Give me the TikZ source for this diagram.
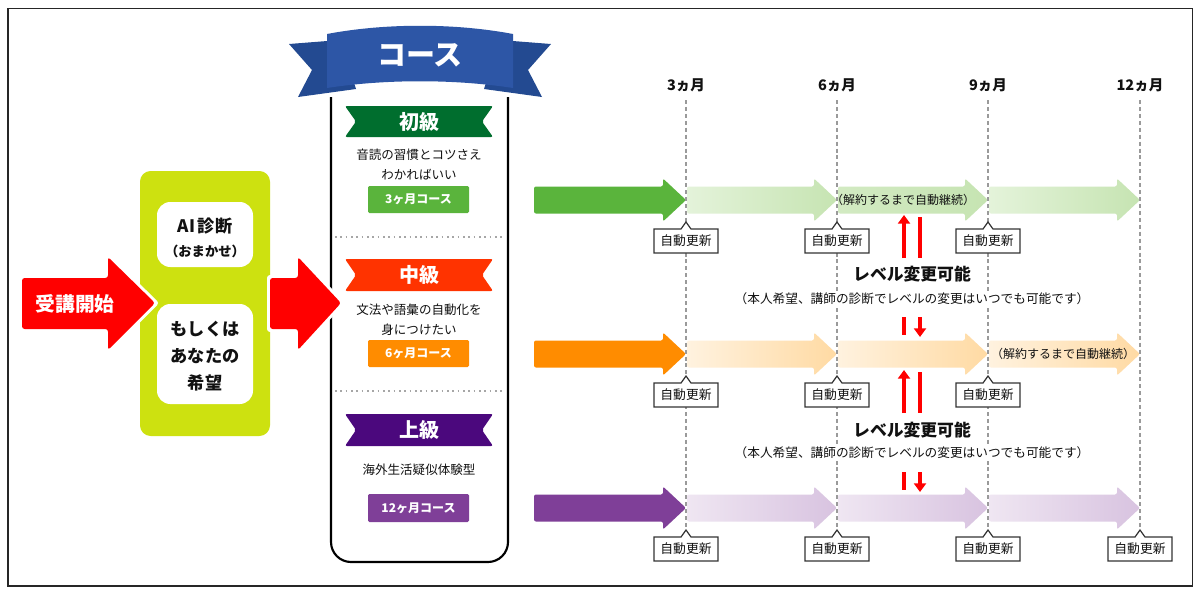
\documentclass[tikz,border=0pt]{standalone}
\usepackage{fontspec}
\setmainfont{Noto Sans CJK JP}
\usetikzlibrary{arrows.meta}
\definecolor{cLime}{HTML}{CDE110}
\definecolor{cRed}{HTML}{FF0000}
\definecolor{cRib}{HTML}{2D56A6}
\definecolor{cRibDk}{HTML}{234A91}
\definecolor{lvA}{HTML}{006E2E}
\definecolor{lvB}{HTML}{FF3300}
\definecolor{lvC}{HTML}{4B087D}
\definecolor{btA}{HTML}{5AB43C}
\definecolor{btB}{HTML}{FF8C00}
\definecolor{btC}{HTML}{7F3F98}
\definecolor{gAa}{HTML}{E4F3DA}
\definecolor{gAb}{HTML}{C6E4B2}
\definecolor{gBa}{HTML}{FFF2DF}
\definecolor{gBb}{HTML}{FFDAA3}
\definecolor{gCa}{HTML}{EFE6F2}
\definecolor{gCb}{HTML}{D8C3E0}
\definecolor{cDash}{HTML}{9A9A9A}
\definecolor{cTxt}{HTML}{111111}
\newcommand\tlarrow[4]{\path[#4] (#1,#3-13.5) -- (#2-23,#3-13.5) -- (#2-23,#3-21.5) -- (#2,#3) -- (#2-23,#3+21.5) -- (#2-23,#3+13.5) -- (#1,#3+13.5) -- cycle;}
\newcommand\updbox[3]{\draw[callout] (#1-32,#2+29) -- (#1-5,#2+29) -- (#1,#2+22) -- (#1+5,#2+29) -- (#1+32,#2+29) -- (#1+32,#2+53) -- (#1-32,#2+53) -- cycle;
 \node[updtext] (#3) at (#1,#2+41) {自動更新};}
\newcommand\lvbanner[5]{\fill[#4, rounded corners=1.5] (345,#1) -- (493,#1) -- (482,#1/2+#2/2) -- (493,#2) -- (345,#2) -- (356,#1/2+#2/2) -- cycle;
 \node[lvtext] (#5) at (419,#1/2+#2/2) {#3};}
\begin{document}
\begin{tikzpicture}[x=0.75pt,y=-0.75pt,
  callout/.style={fill=white,draw=black!80,line width=0.9pt},
  updtext/.style={inner sep=0pt,text=cTxt,font=\fontsize{9.6pt}{11pt}\selectfont},
  lvtext/.style={inner sep=0pt,text=white,font=\fontsize{15pt}{18pt}\selectfont\bfseries},
  desc/.style={inner sep=0pt,align=center,text=cTxt,font=\fontsize{9.4pt}{15pt}\selectfont},
  btn/.style={inner sep=0pt,text=white,font=\fontsize{9pt}{11pt}\selectfont\bfseries},
  month/.style={inner sep=0pt,text=cTxt,font=\fontsize{10.9pt}{13pt}\selectfont\bfseries},
  dashline/.style={cDash,line width=0.8pt,dash pattern=on 3pt off 2.2pt},
  redline/.style={cRed,line width=2.3pt},
  redtip/.style={-{Triangle[width=9pt,length=6.5pt]}},
  lvtitle/.style={inner sep=1pt,text=cTxt,font=\fontsize{12.6pt}{15pt}\selectfont\bfseries},
  lvsub/.style={fill=white,inner sep=1.5pt,text=cTxt,font=\fontsize{9.5pt}{11pt}\selectfont},
  cont/.style={inner sep=0pt,text=cTxt,font=\fontsize{9pt}{11pt}\selectfont},
  bigarrow/.style={fill=cRed},
]
\useasboundingbox (0,0) rectangle (1200,594);
\fill[white] (0,0) rectangle (1200,594);
\draw[line width=1.4pt,black!85] (8,8.5) rectangle (1192.5,586);

% timeline dashed lines
\foreach \xx in {686,837,988,1140} {\draw[dashline] (\xx,100) -- (\xx,558);}
\node[month] (m3) at (686,85) {3ヵ月};
\node[month] (m6) at (837,85) {6ヵ月};
\node[month] (m9) at (988,85) {9ヵ月};
\node[month] (m12) at (1140,85) {12ヵ月};

% course panel
\draw[line width=1.6pt,black,rounded corners=15] (331,97) -- (331,562) -- (508,562) -- (508,97);
% ribbon
\fill[cRibDk] (289,44) -- (340,40) -- (356,89) -- (298,97) -- (312,70) -- cycle;
\fill[cRibDk] (551,44) -- (500,40) -- (484,89) -- (542,97) -- (528,70) -- cycle;
\fill[cRib] (327,34) .. controls (385,23) and (455,23) .. (513,34) -- (513,88) .. controls (455,79) and (385,79) .. (327,88) -- cycle;
\node[inner sep=0pt,text=white,font=\fontsize{21.75pt}{24pt}\selectfont\bfseries] (course) at (420,55) {コース};

% levels
\lvbanner{106}{137}{初級}{lvA}{lva}
\node[desc] (da) at (419,165) {音読の習慣とコツさえ\\わかればいい};
\fill[btA, rounded corners=1] (368,186) rectangle (469,213);
\node[btn] (ba) at (418.5,199.5) {3ヶ月コース};
\draw[black!35,line width=1.3pt,dash pattern=on 1.2pt off 2.8pt] (335,237) -- (505,237);

\lvbanner{259}{291}{中級}{lvB}{lvb}
\node[desc] (db) at (419,319.5) {文法や語彙の自動化を\\身につけたい};
\fill[btB, rounded corners=1] (368,340) rectangle (469,367);
\node[btn] (bb) at (418.5,353.5) {6ヶ月コース};
\draw[black!35,line width=1.3pt,dash pattern=on 1.2pt off 2.8pt] (335,391) -- (505,391);

\lvbanner{414}{446}{上級}{lvC}{lvc}
\node[desc] (dc) at (419,470) {海外生活疑似体験型};
\fill[btC, rounded corners=1] (368,494) rectangle (469,522);
\node[btn] (bc) at (418.5,508) {12ヶ月コース};

% diagnosis box
\fill[cLime, rounded corners=8] (140,171) rectangle (270,436);
\fill[white, rounded corners=10] (157,202) rectangle (253,267);
\fill[white, rounded corners=10] (157,304) rectangle (253,404);
\node[inner sep=0pt,text=cTxt,font=\fontsize{12.9pt}{15pt}\selectfont\bfseries] (ai) at (205,226) {AI\kern2pt 診断};
\node[inner sep=0pt,text=cTxt,font=\fontsize{10pt}{12pt}\selectfont\bfseries] (omk) at (205,251) {（おまかせ）};
\node[inner sep=0pt,align=center,text=cTxt,font=\fontsize{12.9pt}{20.5pt}\selectfont\bfseries] (wish) at (205,356) {もしくは\\あなたの\\希望};

% big red arrows
\draw[white,line width=4.5pt,line join=round] (22,278) -- (108,278) -- (108,257) -- (155,303) -- (108,350) -- (108,329) -- (22,329) -- cycle;
\fill[bigarrow,rounded corners=2] (22,278) -- (108,278) -- (108,257) -- (155,303) -- (108,350) -- (108,329) -- (22,329) -- cycle;
\node[inner sep=0pt,text=white,font=\fontsize{14.8pt}{17pt}\selectfont\bfseries] (start) at (75,304) {受講開始};
\draw[white,line width=4.5pt,line join=round] (270,278) -- (298,278) -- (298,257) -- (341,303) -- (298,350) -- (298,329) -- (270,329) -- cycle;
\fill[bigarrow,rounded corners=2] (270,278) -- (298,278) -- (298,257) -- (341,303) -- (298,350) -- (298,329) -- (270,329) -- cycle;

% timeline rows
\tlarrow{534}{686}{200}{fill=btA,rounded corners=1.5}
\tlarrow{687}{837}{200}{left color=gAa,right color=gAb,rounded corners=1.5}
\tlarrow{838}{988}{200}{left color=gAa!40!gAb,right color=gAb,rounded corners=1.5}
\tlarrow{989}{1140}{200}{left color=gAa,right color=gAb,rounded corners=1.5}
\node[cont] (ca) at (903,200) {（解約するまで自動継続）};

\tlarrow{534}{686}{354}{fill=btB,rounded corners=1.5}
\tlarrow{687}{837}{354}{left color=gBa,right color=gBb,rounded corners=1.5}
\tlarrow{838}{988}{354}{left color=gBa,right color=gBb,rounded corners=1.5}
\tlarrow{989}{1140}{354}{left color=gBa,right color=gBb,rounded corners=1.5}
\node[cont] (cb) at (1063,354) {（解約するまで自動継続）};

\tlarrow{534}{686}{508}{fill=btC,rounded corners=1.5}
\tlarrow{687}{837}{508}{left color=gCa,right color=gCb,rounded corners=1.5}
\tlarrow{838}{988}{508}{left color=gCa,right color=gCb,rounded corners=1.5}
\tlarrow{989}{1140}{508}{left color=gCa,right color=gCb,rounded corners=1.5}

% auto-renew callouts
\updbox{686}{200}{ua3}
\updbox{837}{200}{ua6}
\updbox{988}{200}{ua9}
\updbox{686}{354}{ub3}
\updbox{837}{354}{ub6}
\updbox{988}{354}{ub9}
\updbox{686}{508}{uc3}
\updbox{837}{508}{uc6}
\updbox{988}{508}{uc9}
\updbox{1140}{508}{uc12}

% level change
\node[lvtitle] (lt1) at (912,274) {レベル変更可能};
\node[lvsub] (ls1) at (912,299) {（本人希望、講師の診断でレベルの変更はいつでも可能です）};
\node[lvtitle] (lt2) at (912,430) {レベル変更可能};
\node[lvsub] (ls2) at (912,453) {（本人希望、講師の診断でレベルの変更はいつでも可能です）};

\coordinate (p1a) at (904,258); \coordinate (p1b) at (904,215);
\coordinate (p1c) at (920,217); \coordinate (p1d) at (920,258);
\coordinate (p1e) at (904,317); \coordinate (p1f) at (904,335);
\coordinate (p1g) at (920,317); \coordinate (p1h) at (920,337);
\draw[redline,redtip] (p1a) -- (p1b);
\draw[redline] (p1c) -- (p1d);
\draw[redline] (p1e) -- (p1f);
\draw[redline,redtip] (p1g) -- (p1h);

\coordinate (p2a) at (904,413); \coordinate (p2b) at (904,370);
\coordinate (p2c) at (920,372); \coordinate (p2d) at (920,413);
\coordinate (p2e) at (904,472); \coordinate (p2f) at (904,490);
\coordinate (p2g) at (920,472); \coordinate (p2h) at (920,492);
\draw[redline,redtip] (p2a) -- (p2b);
\draw[redline] (p2c) -- (p2d);
\draw[redline] (p2e) -- (p2f);
\draw[redline,redtip] (p2g) -- (p2h);
\end{tikzpicture}
\end{document}
